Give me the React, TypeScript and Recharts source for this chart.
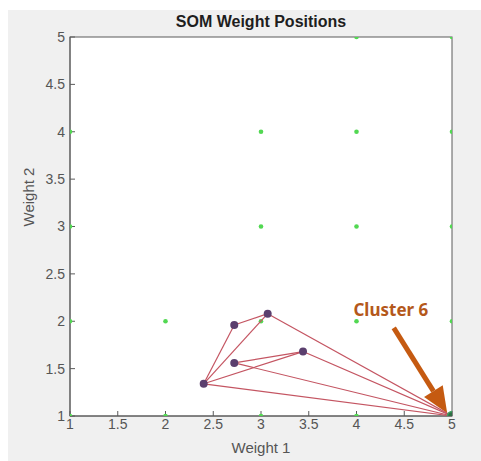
import {
  ScatterChart,
  Scatter,
  XAxis,
  YAxis,
  ReferenceLine,
  ReferenceDot,
} from 'recharts';

// grid neuron positions (green)
const gridX = [1, 2, 3, 4, 5, 1, 2, 3, 4, 5, 1, 3, 4, 5, 1, 3, 4, 5, 4, 5];
const gridY = [1, 1, 1, 1, 1, 2, 2, 2, 2, 2, 3, 3, 3, 3, 4, 4, 4, 4, 5, 5];

// weight nodes (purple) and cluster 6
const nodeX = [2.4, 2.72, 3.07, 2.72, 3.44, 5];
const nodeY = [1.34, 1.96, 2.08, 1.56, 1.68, 1];
const edges: [number, number][] = [
  [0, 1], [1, 2], [0, 2], [0, 4], [3, 4],
  [0, 5], [3, 5], [4, 5], [2, 5],
];

const ticks = [1, 1.5, 2, 2.5, 3, 3.5, 4, 4.5, 5];
const arrowFrom = { x: 4.39, y: 1.93 };
const arrowTo = { x: 4.95, y: 1.03 };
const labelPos = { x: 4.36, y: 2.12 };

const gridData = gridX.map((x, i) => ({ x, y: gridY[i] }));
const nodeData = nodeX.slice(0, 5).map((x, i) => ({ x, y: nodeY[i] }));
const clusterData = [{ x: nodeX[5], y: nodeY[5] }];

const font = 'Liberation Sans, Arial, sans-serif';
const axisColor = '#5a5a5a';
const tickStyle = { fontSize: 14, fill: '#555', fontFamily: font };

const Arrow = (p: any) => {
  const { x1, y1, x2, y2 } = p;
  const a = Math.atan2(y2 - y1, x2 - x1);
  const len = 26;
  const w = 11;
  const bx = x2 - len * Math.cos(a);
  const by = y2 - len * Math.sin(a);
  const px = -Math.sin(a) * w;
  const py = Math.cos(a) * w;
  return (
    <g>
      <line x1={x1} y1={y1} x2={bx} y2={by} stroke="#c55a11" strokeWidth={5} />
      <polygon points={`${x2},${y2} ${bx + px},${by + py} ${bx - px},${by - py}`} fill="#c55a11" />
    </g>
  );
};

export default function App() {
  return (
    <div style={{ position: 'absolute', left: 8, top: 10, width: 473, height: 451, background: '#f0f0f0' }}>
      <div style={{ position: 'absolute', left: 0, width: 506, top: 3, textAlign: 'center', fontFamily: font, fontWeight: 'bold', fontSize: 16, color: '#1e1e1e' }}>
        SOM Weight Positions
      </div>
      <ScatterChart width={473} height={451} margin={{ top: 27, right: 29, left: 0, bottom: 0 }}>
        <rect x={62} y={27} width={382} height={379} fill="#fff" stroke={axisColor} />
        <XAxis
          type="number" dataKey="x" xAxisId="b" domain={[1, 5]} ticks={ticks} allowDataOverflow
          height={45} tickSize={-5} tickMargin={8} stroke={axisColor} tick={tickStyle}
          label={{ value: 'Weight 1', position: 'insideBottom', offset: 8, fill: '#555', fontSize: 15, fontFamily: font }}
        />
        <XAxis
          type="number" dataKey="x" xAxisId="t" orientation="top" domain={[1, 5]} ticks={ticks}
          height={0} tickSize={-5} tick={false} stroke={axisColor}
        />
        <YAxis
          type="number" dataKey="y" yAxisId="l" domain={[1, 5]} ticks={ticks} allowDataOverflow
          width={62} tickSize={-5} tickMargin={10} stroke={axisColor} tick={tickStyle}
          label={{ value: 'Weight 2', angle: -90, position: 'insideLeft', offset: 21, fill: '#555', fontSize: 15, fontFamily: font }}
        />
        <YAxis
          type="number" dataKey="y" yAxisId="r" orientation="right" domain={[1, 5]} ticks={ticks}
          width={0} tickSize={-5} tick={false} stroke={axisColor}
        />
        <Scatter
          xAxisId="b" yAxisId="l" data={gridData} fill="#4fd64f" isAnimationActive={false}
          shape={(p: any) => <circle cx={p.cx} cy={p.cy} r={2.3} fill="#52d852" />}
        />
        {edges.map(([a, b], i) => (
          <Scatter
            key={i}
            xAxisId="b" yAxisId="l"
            data={[{ x: nodeX[a], y: nodeY[a] }, { x: nodeX[b], y: nodeY[b] }]}
            line={{ stroke: '#c45562', strokeWidth: 1.2 }}
            shape={() => <g />}
            isAnimationActive={false}
          />
        ))}
        <Scatter
          xAxisId="b" yAxisId="l" data={nodeData} isAnimationActive={false}
          shape={(p: any) => <circle cx={p.cx} cy={p.cy} r={4} fill="#5b3f6e" />}
        />
        <Scatter
          xAxisId="b" yAxisId="l" data={clusterData} isAnimationActive={false}
          shape={(p: any) => <circle cx={p.cx} cy={p.cy} r={4.5} fill="#2f6f45" stroke="#3fa060" strokeWidth={1.5} />}
        />
        <ReferenceLine
          xAxisId="b" yAxisId="l" segment={[arrowFrom, arrowTo]} ifOverflow="visible"
          shape={Arrow}
        />
        <ReferenceDot
          xAxisId="b" yAxisId="l" x={labelPos.x} y={labelPos.y} r={0} ifOverflow="visible"
          label={{ value: 'Cluster 6', position: 'center', fill: '#b4581b', fontSize: 17, fontWeight: 'bold', fontFamily: 'Noto Sans, sans-serif' }}
        />
      </ScatterChart>
    </div>
  );
}
